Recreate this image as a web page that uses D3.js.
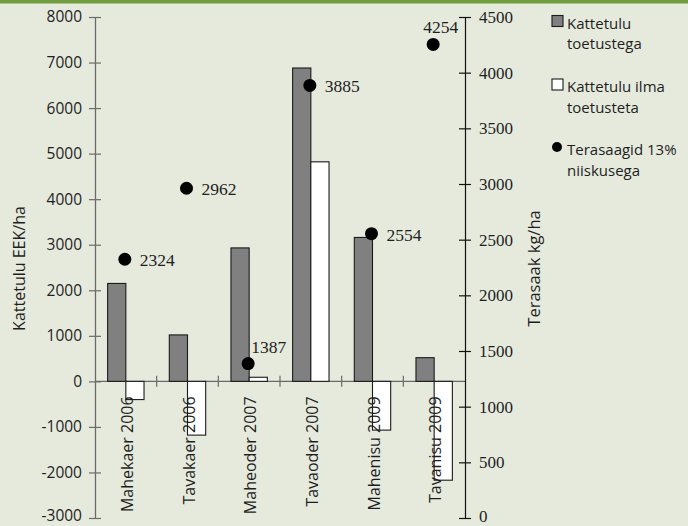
<!DOCTYPE html>
<html>
<head>
<meta charset="utf-8">
<script src="https://cdn.jsdelivr.net/npm/d3@7"></script>
<style>
  html, body { margin: 0; padding: 0; background: #e5eadd; }
  svg { display: block; }
</style>
</head>
<body>
<svg id="chart" width="688" height="526"></svg>
<script>
// Categories (farm type + year)
const categories = ["Mahekaer 2006", "Tavakaer 2006", "Maheoder 2007", "Tavaoder 2007", "Mahenisu 2009", "Tavanisu 2009"];
// Kattetulu toetustega, EEK/ha (left axis)
const incomeWithSupport = [2150, 1020, 2930, 6880, 3160, 520];
// Kattetulu ilma toetusteta, EEK/ha (left axis)
const incomeWithoutSupport = [-400, -1180, 90, 4820, -1070, -2170];
// Terasaagid 13% niiskusega, kg/ha (right axis)
const grainYield = [2324, 2962, 1387, 3885, 2554, 4254];
// Axis ticks
const leftTicks = [-3000, -2000, -1000, 0, 1000, 2000, 3000, 4000, 5000, 6000, 7000, 8000];
const rightTicks = [0, 500, 1000, 1500, 2000, 2500, 3000, 3500, 4000, 4500];
// Legend entries
const legendItems = [
  { lines: ["Kattetulu", "toetustega"], kind: "gray" },
  { lines: ["Kattetulu ilma", "toetusteta"], kind: "white" },
  { lines: ["Terasaagid 13%", "niiskusega"], kind: "dot" }
];

const svg = d3.select("#chart");
const W = 688, H = 526;
const plot = { left: 95, right: 465, top: 17, bottom: 518 };
const sans = "'Open Sans', 'DejaVu Sans', sans-serif";
const serif = "'Liberation Serif', 'DejaVu Serif', serif";
const ink = "#1e1e1e";
const plain = d => String(d); // plain hyphen-minus for negatives

// background + top rule
svg.append("rect").attr("width", W).attr("height", H).attr("fill", "#e5eadd");
svg.append("rect").attr("x", 0).attr("y", 0).attr("width", W).attr("height", 3.5).attr("fill", "#6f9d3e");

const yLeft = d3.scaleLinear().domain([-3000, 8000]).range([plot.bottom, plot.top]);
const yRight = d3.scaleLinear().domain([0, 4500]).range([plot.bottom, plot.top]);
const x = d3.scaleBand().domain(categories).range([plot.left, plot.right]).paddingInner(0).paddingOuter(0);
const bw = x.bandwidth();
const xs = d3.scaleBand().domain(["with", "without"]).range([bw * 0.205, bw * 0.795]).padding(0);

// x axis line at zero with boundary ticks
const y0 = yLeft(0);
svg.append("line")
  .attr("x1", plot.left).attr("x2", plot.right)
  .attr("y1", y0).attr("y2", y0)
  .attr("stroke", "#6a6a6a").attr("stroke-width", 1.3);
svg.selectAll(".xsep").data(categories.slice(1)).enter().append("line")
  .attr("class", "xsep")
  .attr("x1", d => x(d)).attr("x2", d => x(d))
  .attr("y1", y0 - 5.5).attr("y2", y0 + 5.5)
  .attr("stroke", "#6a6a6a").attr("stroke-width", 1.2);

// bars
const groups = svg.selectAll(".grp").data(categories).enter().append("g")
  .attr("class", "grp")
  .attr("transform", d => `translate(${x(d)},0)`);

groups.append("rect")
  .attr("x", xs("with"))
  .attr("width", xs.bandwidth())
  .attr("y", (d, i) => yLeft(Math.max(0, incomeWithSupport[i])))
  .attr("height", (d, i) => Math.abs(yLeft(incomeWithSupport[i]) - y0))
  .attr("fill", "#808080").attr("stroke", "#1a1a1a").attr("stroke-width", 1.1);

groups.append("rect")
  .attr("x", xs("without"))
  .attr("width", xs.bandwidth())
  .attr("y", (d, i) => yLeft(Math.max(0, incomeWithoutSupport[i])))
  .attr("height", (d, i) => Math.abs(yLeft(incomeWithoutSupport[i]) - y0))
  .attr("fill", "#ffffff").attr("stroke", "#1a1a1a").attr("stroke-width", 1.1);

// left axis
const axL = svg.append("g")
  .attr("transform", `translate(${plot.left},0)`)
  .call(d3.axisLeft(yLeft).tickValues(leftTicks).tickSizeInner(6).tickSizeOuter(0).tickPadding(7).tickFormat(plain));
axL.select(".domain").attr("stroke", "#6a6a6a").attr("stroke-width", 1.3);
axL.selectAll(".tick line").attr("x1", 6).attr("stroke", "#6a6a6a").attr("stroke-width", 1.2);
axL.selectAll(".tick text").attr("font-family", sans).attr("font-size", 15.5).attr("fill", ink)
  .filter(d => d === leftTicks[0]).attr("dy", "0.18em"); // keep lowest label inside the frame

// right axis
const axR = svg.append("g")
  .attr("transform", `translate(${plot.right},0)`)
  .call(d3.axisRight(yRight).tickValues(rightTicks).tickSizeInner(6).tickSizeOuter(0).tickPadding(8).tickFormat(plain));
axR.select(".domain").attr("stroke", "#111").attr("stroke-width", 1.2);
axR.selectAll(".tick line").attr("x1", -6).attr("stroke", "#111").attr("stroke-width", 1.2);
axR.selectAll(".tick text").attr("font-family", serif).attr("font-size", 17).attr("fill", ink)
  .filter(d => d === rightTicks[0]).attr("dy", "0.2em");

// category labels (vertical, drawn over bars)
svg.selectAll(".catlab").data(categories).enter().append("text")
  .attr("class", "catlab")
  .attr("transform", d => `translate(${x(d) + bw / 2 + 7},${y0 + 15}) rotate(-90)`)
  .attr("text-anchor", "end")
  .attr("font-family", sans).attr("font-size", 16).attr("fill", ink)
  .text(d => d);

// yield points with value labels
const labelOffset = [[15, 7], [15, 7], [3, -11], [15, 7], [15, 7], [-10, -11]];
svg.selectAll(".pt").data(categories).enter().append("circle")
  .attr("class", "pt")
  .attr("cx", d => x(d) + bw / 2 - 1)
  .attr("cy", (d, i) => yRight(grainYield[i]))
  .attr("r", 6.5)
  .attr("fill", "#000");
svg.selectAll(".ptlab").data(categories).enter().append("text")
  .attr("class", "ptlab")
  .attr("x", (d, i) => x(d) + bw / 2 - 1 + labelOffset[i][0])
  .attr("y", (d, i) => yRight(grainYield[i]) + labelOffset[i][1])
  .attr("font-family", serif).attr("font-size", 17.5).attr("fill", ink)
  .text((d, i) => grainYield[i]);

// axis titles
svg.append("text")
  .attr("transform", `translate(25,${(plot.top + plot.bottom) / 2 + 1}) rotate(-90)`)
  .attr("text-anchor", "middle")
  .attr("font-family", sans).attr("font-size", 16).attr("fill", ink)
  .text("Kattetulu EEK/ha");
svg.append("text")
  .attr("transform", `translate(540,${(plot.top + plot.bottom) / 2 + 1}) rotate(-90)`)
  .attr("text-anchor", "middle")
  .attr("font-family", sans).attr("font-size", 16.5).attr("fill", ink)
  .text("Terasaak kg/ha");

// legend
const legendBase = [28.5, 92, 155];
const leg = svg.selectAll(".leg").data(legendItems).enter().append("g")
  .attr("class", "leg")
  .attr("transform", (d, i) => `translate(552,${legendBase[i]})`);
leg.filter(d => d.kind !== "dot").append("rect")
  .attr("x", 0).attr("y", -13).attr("width", 11).attr("height", 11)
  .attr("fill", d => d.kind === "gray" ? "#808080" : "#ffffff")
  .attr("stroke", "#1a1a1a").attr("stroke-width", 1.1);
leg.filter(d => d.kind === "dot").append("circle")
  .attr("cx", 5).attr("cy", -8).attr("r", 5).attr("fill", "#000");
leg.each(function (d) {
  const g = d3.select(this);
  d.lines.forEach((ln, j) => {
    g.append("text")
      .attr("x", 15).attr("y", j * 20.6)
      .attr("font-family", sans).attr("font-size", 15).attr("fill", ink)
      .text(ln);
  });
});
</script>
</body>
</html>
